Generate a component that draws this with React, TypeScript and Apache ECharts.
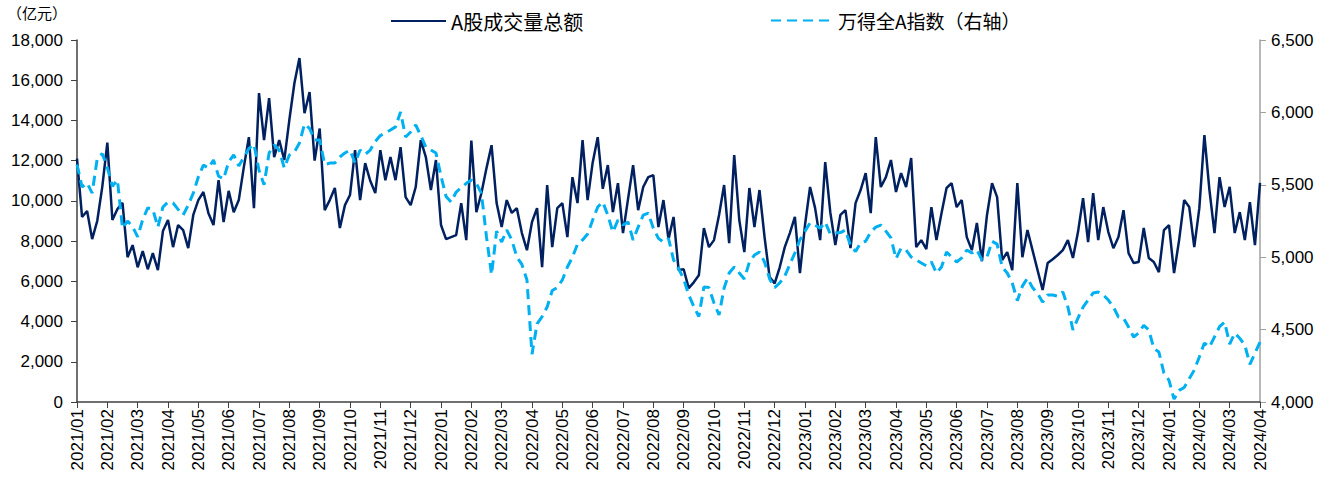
import React, { useEffect, useRef } from 'react';
import * as echarts from 'echarts';

const monthLabels = [
  '2021/01', '2021/02', '2021/03', '2021/04', '2021/05', '2021/06', '2021/07', '2021/08', '2021/09', '2021/10', '2021/11', '2021/12',
  '2022/01', '2022/02', '2022/03', '2022/04', '2022/05', '2022/06', '2022/07', '2022/08', '2022/09', '2022/10', '2022/11', '2022/12',
  '2023/01', '2023/02', '2023/03', '2023/04', '2023/05', '2023/06', '2023/07', '2023/08', '2023/09', '2023/10', '2023/11', '2023/12',
  '2024/01', '2024/02', '2024/03', '2024/04',
];
const SLOTS_PER_MONTH = 6;

const seriesNames = ['A股成交量总额', '万得全A指数（右轴）'];

// A股成交量总额（亿元）
const turnover2021 = [
  12100, 9200, 9500, 8100, 9000, 10700,
  12900, 9050, 9600, 9900, 7200, 7800,
  6700, 7500, 6600, 7400, 6560, 8500,
  9050, 7700, 8800, 8550, 7650, 9300,
  10040, 10440, 9390, 8800, 11030, 8950,
  10500, 9440, 10040, 11680, 13170, 9640,
  15360, 13020, 15110, 12180, 13020, 12030,
  14020, 15850, 17100, 14360, 15410, 12000,
  13600, 9540, 10040, 10640, 8650, 9790,
  10290, 12520, 10040, 11880, 11000, 10390,
  12520, 11030, 12180, 11030, 12670, 10190,
  9790, 10690, 13020, 12180, 10540, 12030,
];
const turnover2022 = [
  8800, 8100, 8200, 8300, 9890, 8050,
  13000, 9440, 10390, 11630, 12770, 9890,
  8700, 10040, 9400, 9640, 8400, 7550,
  8950, 9640, 6710, 10790, 7700, 9640,
  9890, 8200, 11180, 9890, 13020, 10040,
  11900, 13170, 10600, 11780, 9440, 10880,
  8400, 10100, 11780, 9540, 10690, 11180,
  11280, 8700, 10040, 8100, 9200, 6560,
  6600, 5660, 5950, 6300, 8650, 7700,
  8050, 9300, 10790, 7900, 12280, 9050,
  7450, 10640, 8700, 10540, 8200, 6210,
  5900, 6700, 7700, 8400, 9200, 6410,
];
const turnover2023 = [
  8800, 10690, 9640, 8050, 11930, 9440,
  7800, 9300, 9540, 7650, 9890, 10540,
  11380, 9390, 13170, 10690, 11180, 12030,
  10440, 11380, 10690, 12130, 7700, 8050,
  7600, 9690, 8050, 9390, 10640, 10880,
  9690, 10040, 8200, 7550, 8900, 7000,
  9300, 10880, 10190, 7060, 7450, 6560,
  10880, 7200, 8550, 7550, 6560, 5570,
  6910, 7100, 7310, 7550, 8050, 7160,
  8450, 10140, 7950, 10390, 8050, 9690,
  8450, 7650, 8200, 9540, 7400, 6910,
  6960, 8650, 7160, 6960, 6460, 8550,
];
const turnover2024 = [
  8800, 6410, 8050, 10040, 9700, 7700,
  9640, 13270, 10540, 8400, 11180, 9700,
  10700, 8400, 9440, 8050, 9940, 7800,
  10900,
];

// 万得全A指数
const windA2021 = [
  5640, 5485, 5512, 5443, 5680, 5715,
  5620, 5490, 5533, 5200, 5250, 5210,
  5140, 5260, 5340, 5330, 5208, 5347,
  5381, 5374, 5330, 5291, 5360, 5443,
  5554, 5636, 5616, 5671, 5560, 5540,
  5660, 5706, 5630, 5690, 5750, 5780,
  5600, 5500, 5720, 5775, 5740, 5616,
  5706, 5726, 5789, 5920, 5890, 5810,
  5809, 5640, 5650, 5650, 5692, 5720,
  5740, 5650, 5740, 5710, 5740, 5800,
  5840, 5858, 5878, 5900, 6003, 5830,
  5865, 5913, 5840, 5761, 5740, 5720,
];
const windA2022 = [
  5560, 5420, 5381, 5450, 5480, 5510,
  5533, 5510, 5440, 5140, 4880, 5180,
  5105, 5188, 5120, 5001, 4950, 4843,
  4330, 4540, 4590, 4656, 4770, 4790,
  4843, 4932, 5000, 5090, 5119, 5160,
  5257, 5347, 5381, 5290, 5174, 5257,
  5222, 5243, 5119, 5208, 5290, 5305,
  5200, 5130, 5105, 5130, 4981, 4920,
  4850, 4740, 4660, 4590, 4794, 4790,
  4684, 4601, 4787, 4891, 4932, 4891,
  4850, 4967, 5015, 5036, 4967, 4850,
  4790, 4822, 4870, 4950, 5030, 5120,
];
const windA2023 = [
  5180, 5236, 5222, 5200, 5243, 5160,
  5167, 5170, 5188, 5080, 5040, 5098,
  5110, 5174, 5208, 5222, 5180, 5133,
  4990, 5063, 5050, 5001, 4981, 4960,
  4940, 4967, 4891, 4932, 5036, 5001,
  4967, 4995, 5050, 5029, 5050, 4981,
  5001, 5110, 5090, 4932, 4891, 4822,
  4700, 4800, 4856, 4790, 4750, 4690,
  4739, 4739, 4730, 4760, 4656, 4497,
  4580, 4656, 4704, 4753, 4760, 4739,
  4704, 4656, 4587, 4580, 4518, 4449,
  4476, 4530, 4497, 4370, 4345, 4200,
];
const windA2024 = [
  4150, 4020, 4080, 4100, 4160, 4221,
  4311, 4407, 4380, 4450, 4520, 4552,
  4400, 4476, 4440, 4393, 4260, 4338,
  4414,
];

const FONT = '"Liberation Sans", Arial, "Noto Sans CJK SC", sans-serif';
const CJK_FONT = '"Noto Sans CJK SC", "Liberation Sans", sans-serif';

export default function App() {
  const ref = useRef<HTMLDivElement>(null);

  useEffect(() => {
    if (!ref.current) return;
    const chart = echarts.init(ref.current, null, { renderer: 'svg' });

    const categories: string[] = [];
    monthLabels.forEach((m, i) => {
      const n = i === monthLabels.length - 1 ? 1 : SLOTS_PER_MONTH;
      for (let k = 0; k < n; k++) categories.push(k === 0 ? m : `${m}#${k}`);
    });

    const turnover = [...turnover2021, ...turnover2022, ...turnover2023, ...turnover2024];
    const windA = [...windA2021, ...windA2022, ...windA2023, ...windA2024];

    const fmt = (v: number) => v.toLocaleString('en-US');

    chart.setOption({
      animation: false,
      textStyle: { fontFamily: FONT },
      grid: { left: 77, right: 80, top: 40, bottom: 84, containLabel: false },
      legend: [
        {
          data: [seriesNames[0]],
          left: 385,
          top: 6,
          itemWidth: 55,
          itemHeight: 14,
          itemGap: 6,
          itemStyle: { opacity: 0 },
          textStyle: { fontSize: 20, color: '#000', fontFamily: CJK_FONT },
        },
        {
          data: [seriesNames[1]],
          left: 765,
          top: 6,
          itemWidth: 62,
          itemHeight: 14,
          itemGap: 6,
          itemStyle: { opacity: 0 },
          textStyle: { fontSize: 19, color: '#000', fontFamily: CJK_FONT },
        },
      ],
      graphic: [
        {
          type: 'text',
          left: 7,
          top: 5,
          style: { text: '（亿元）', fontSize: 15, fill: '#000', fontFamily: CJK_FONT },
        },
      ],
      xAxis: {
        type: 'category',
        data: categories,
        boundaryGap: false,
        axisLine: { show: true, lineStyle: { color: '#404040', width: 1.5 } },
        axisTick: { show: true, interval: SLOTS_PER_MONTH - 1, length: 6, lineStyle: { color: '#404040' } },
        axisLabel: {
          interval: SLOTS_PER_MONTH - 1,
          rotate: 90,
          fontSize: 17,
          color: '#000',
          margin: 7,
          formatter: (v: string) => v.split('#')[0],
        },
        splitLine: { show: false },
      },
      yAxis: [
        {
          type: 'value',
          min: 0,
          max: 18000,
          interval: 2000,
          position: 'left',
          axisLine: { show: true, lineStyle: { color: '#404040', width: 1.5 } },
          axisTick: { show: true, length: 6, lineStyle: { color: '#404040' } },
          axisLabel: { fontSize: 17, color: '#000', margin: 14, formatter: fmt },
          splitLine: { show: false },
        },
        {
          type: 'value',
          min: 4000,
          max: 6500,
          interval: 500,
          position: 'right',
          axisLine: { show: true, lineStyle: { color: '#a0a0a0', width: 1.5 } },
          axisTick: { show: true, length: 6, lineStyle: { color: '#a0a0a0' } },
          axisLabel: { fontSize: 17, color: '#000', margin: 11, formatter: fmt },
          splitLine: { show: false },
        },
      ],
      series: [
        {
          name: seriesNames[0],
          type: 'line',
          yAxisIndex: 0,
          data: turnover,
          symbol: 'none',
          showSymbol: false,
          lineStyle: { color: '#002060', width: 2.5 },
          itemStyle: { color: '#002060' },
          z: 2,
        },
        {
          name: seriesNames[1],
          type: 'line',
          yAxisIndex: 1,
          data: windA,
          symbol: 'none',
          showSymbol: false,
          lineStyle: { color: '#00B0F0', width: 3, type: [10, 6] },
          itemStyle: { color: '#00B0F0' },
          z: 3,
        },
      ],
    });

    return () => chart.dispose();
  }, []);

  return (
    <div
      ref={ref}
      style={{ position: 'absolute', left: 0, top: 0, width: 1340, height: 486 }}
    />
  );
}
